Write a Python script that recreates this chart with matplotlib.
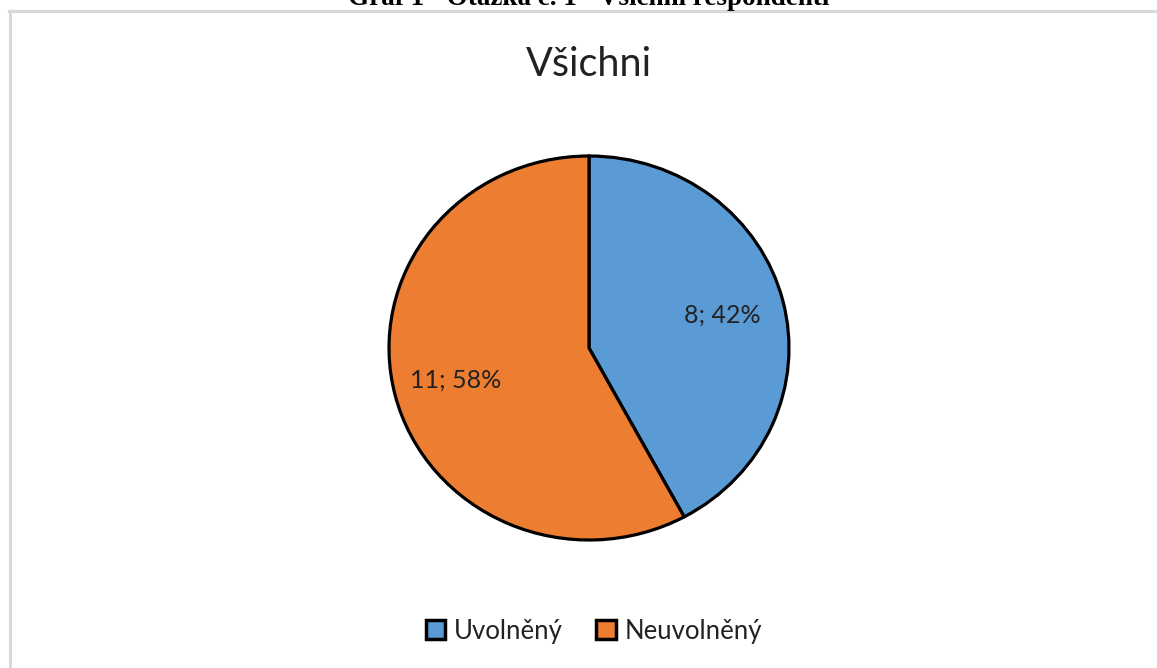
import matplotlib
matplotlib.use('Agg')
from matplotlib import pyplot as plt
from matplotlib.patches import Patch
from matplotlib.lines import Line2D

plt.rcParams['font.family'] = ['Lato', 'DejaVu Sans']

kategorie = ['Uvolněný', 'Neuvolněný']
pocty = [8, 11]
barvy = ['#5B9BD5', '#ED7D31']
nadpis = 'Všichni'
popisek = 'Graf 1 - Otázka č. 1 - Všichni respondenti'

W, H = 1157, 668
fig = plt.figure(figsize=(W / 100, H / 100), dpi=100)

# orezany popisek nahore (jako v dokumentu)
fig.text(589 / W, 1 - 5 / H, popisek, ha='center', va='baseline',
         fontsize=19.5, fontweight='bold', family=['Liberation Serif'])

# sedy ramecek grafu
fig.add_artist(Line2D([9 / W, 1], [1 - 11 / H, 1 - 11 / H], color='#D9D9D9', lw=2.2,
                      transform=fig.transFigure))
fig.add_artist(Line2D([9.5 / W, 9.5 / W], [0, 1 - 11 / H], color='#D9D9D9', lw=2.2,
                      transform=fig.transFigure))

ax = fig.add_axes([389 / W, (668 - 540) / H, 400 / W, 384 / H])
celkem = sum(pocty)
wedges, texty, procenta = ax.pie(
    pocty, colors=barvy, startangle=90, counterclock=False,
    autopct=lambda p: f'{round(p * celkem / 100)}; {p:.0f}%', pctdistance=0.69,
    wedgeprops=dict(edgecolor='black', linewidth=2.3),
    textprops=dict(fontsize=18, color='#222222'))
ax.set_aspect('auto')
ax.set_xlim(-1.0, 1.0)
ax.set_ylim(-1.0, 1.0)

fig.text(589 / W, 1 - 64 / H, nadpis, ha='center', va='center', fontsize=28.5, color='#222222')

handles = [Patch(facecolor=c, edgecolor='black', linewidth=2.5) for c in barvy]
fig.legend(handles, kategorie, loc='center', bbox_to_anchor=(594 / W, 1 - 631 / H), ncol=2,
           frameon=False, fontsize=18.5, handlelength=0.75, handleheight=0.75,
           handletextpad=0.35, columnspacing=1.3, labelcolor='#222222')

fig.savefig('out.png', dpi=100)
